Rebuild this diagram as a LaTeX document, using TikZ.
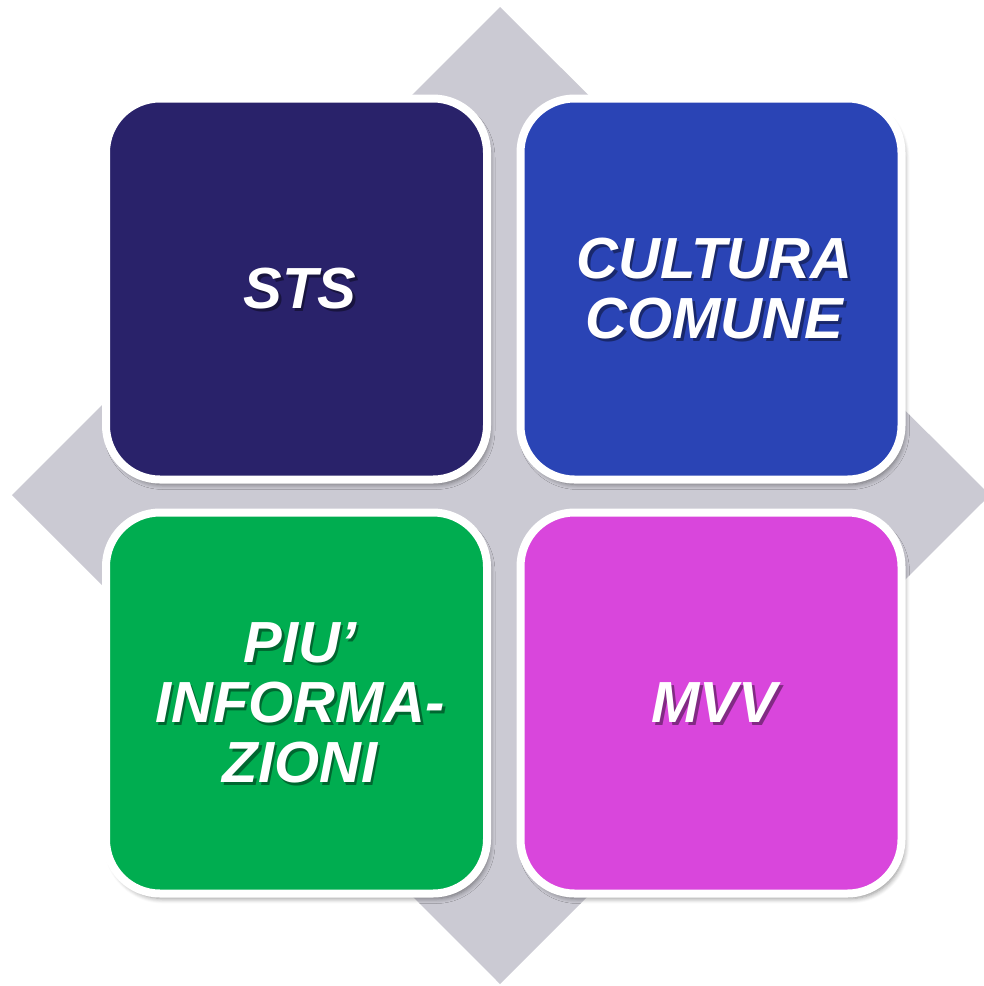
\documentclass[tikz,border=0pt]{standalone}
\usepackage{fontspec}
\setmainfont{Liberation Sans}
\usetikzlibrary{shadows.blur}

\definecolor{diamondgray}{HTML}{CBCAD3}
\definecolor{stsblue}{HTML}{29226A}
\definecolor{culturablue}{HTML}{2A44B5}
\definecolor{infogreen}{HTML}{00AD50}
\definecolor{mvvpink}{HTML}{D946DC}

\tikzset{
  tile/.style={draw=white, line width=8pt, rounded corners=54pt,
    minimum width=381pt, minimum height=381pt, inner sep=0pt,
    blur shadow={shadow xshift=3pt, shadow yshift=-5pt,
      shadow blur steps=6, shadow blur radius=5pt, shadow opacity=45}},
  tiletext/.style={text=white, align=center,
    font=\fontsize{58}{60}\selectfont\bfseries\itshape},
  tileshadow/.style={tiletext, text=black, text opacity=0.4}
}

\newcommand{\tilelabel}[3]{%
  \node[tileshadow] (#1-sh) at ([xshift=6pt, yshift=-2.5pt]#2) {#3};
  \node[tiletext] (#1-txt) at ([xshift=3.5pt]#2) {#3};
}

\begin{document}
\begin{tikzpicture}[x=1pt, y=-1pt]
    \useasboundingbox (0,0) rectangle (984,986);
    % Background diamond
    \fill[diamondgray] (500,7) -- (990,495) -- (500,984) -- (12,495) -- cycle;
    % Tiles
    \node[tile, fill=stsblue] (sts) at (296.5,289) {};
    \node[tile, fill=culturablue] (cultura) at (711,289) {};
    \node[tile, fill=infogreen] (info) at (296.5,703) {};
    \node[tile, fill=mvvpink] (mvv) at (711,703) {};
    % Labels
    \tilelabel{sts}{sts}{STS}
    \tilelabel{cultura}{cultura}{CULTURA\\COMUNE}
    \tilelabel{info}{info}{PIU’\\INFORMA-\\ZIONI}
    \tilelabel{mvv}{mvv}{MVV}
\end{tikzpicture}
\end{document}
